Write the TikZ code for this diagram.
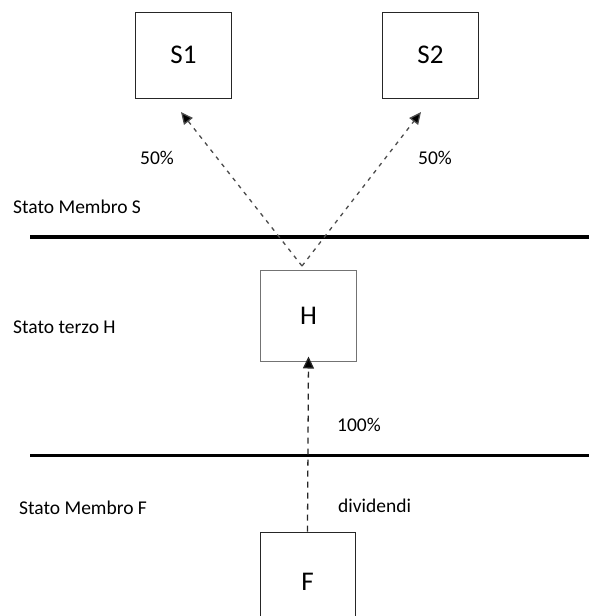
\documentclass[tikz,border=0pt]{standalone}
\usepackage{fontspec}
\setmainfont{Carlito}
\usetikzlibrary{arrows.meta}
\begin{document}
\begin{tikzpicture}[x=1pt,y=-1pt,
  box/.style={draw=black!85,line width=1pt,minimum width=96pt,minimum height=86pt,inner sep=0pt,font=\fontsize{27}{30}\selectfont},
  lbl/.style={anchor=west,inner sep=0pt,font=\fontsize{19.5}{22}\selectfont},
  border/.style={line width=3.5pt,black},
  flow/.style={draw=black!70,line width=1.3pt,dash pattern=on 4pt off 5pt,
    -{Triangle[length=12pt,width=11pt,fill=black]}}]
\useasboundingbox (0,0) rectangle (589,616);
\clip (0,0) rectangle (589,616);
% state boundaries
\coordinate (b1l) at (30,237);
\coordinate (b1r) at (589,237);
\coordinate (b2l) at (30,455);
\coordinate (b2r) at (589,455);
\draw[border] (b1l) -- (b1r);
\draw[border,line width=3pt] (b2l) -- (b2r);
% companies
\node[box] (S1) at (183.5,55) {S1};
\node[box] (S2) at (430.5,55) {S2};
\node[box,draw=black!55,minimum height=91pt] (H) at (308.5,315.5) {H};
\node[box,minimum width=95pt,minimum height=100pt] (F) at (307.5,582) {F};
% holdings
\coordinate (apex) at (302,266);
\coordinate (tipA) at (181,112);
\coordinate (tipB) at (421,112);
\draw[flow] (apex) -- (tipA);
\draw[flow] (apex) -- (tipB);
\draw[flow,draw=black!85,dash pattern=on 6pt off 5pt] (F.north) -- ([yshift=5pt]H.south);
% labels
\node[lbl] (pA) at (140,158) {50\%};
\node[lbl] (pB) at (418,158) {50\%};
\node[lbl] (sS) at (13,207) {Stato Membro S};
\node[lbl] (sH) at (13,327) {Stato terzo H};
\node[lbl] (pH) at (337,425) {100\%};
\node[lbl] (sF) at (19,508) {Stato Membro F};
\node[lbl] (div) at (338,506) {dividendi};
\end{tikzpicture}
\end{document}
